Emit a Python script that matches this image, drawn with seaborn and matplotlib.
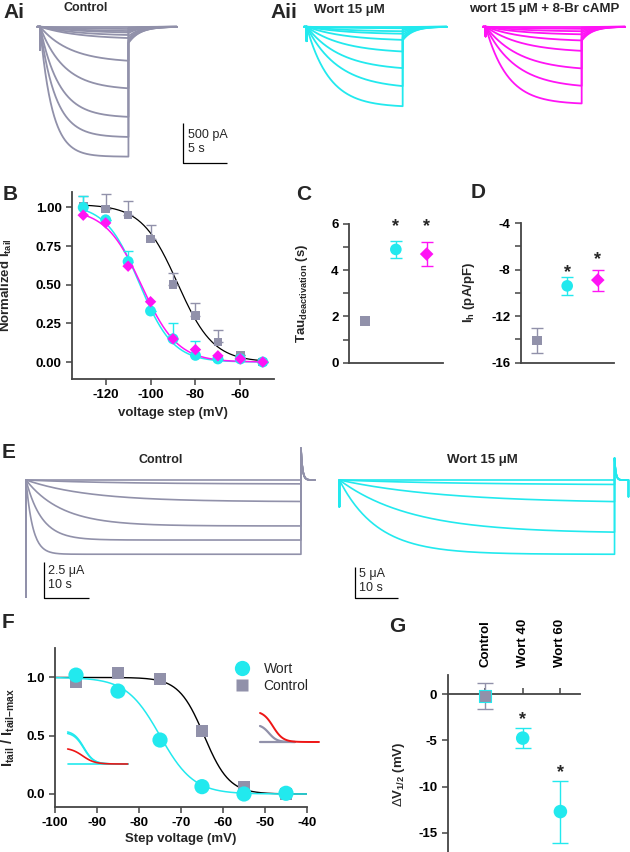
import numpy as np
import pandas as pd
import matplotlib
matplotlib.use("Agg")
import matplotlib.pyplot as plt
from matplotlib.lines import Line2D
from matplotlib.ticker import FixedLocator
import seaborn as sns

# ---------------------------------------------------------------- data
GRAY = "#9191aa"
CYAN = "#22e9ee"
MAGENTA = "#ff14f5"
RED = "#ee1515"

# Panel A (current traces, pA / s)
ai_amp_pA = [0, 33, 62, 83, 116, 158, 450, 791, 1138, 1383, 1625]
ai_tau_s = [5, 5, 5, 5, 4.5, 4.5, 3.5, 2.8, 2.2, 1.8, 1.4]
ai_tail_pA = [0, 15, 30, 45, 60, 80, 120, 150, 175, 195, 205]
aii_wort_amp_pA = [0, 21, 62, 96, 180, 334, 550, 780, 1008]
aii_wort_tau_s = [4.5, 4.5, 4.5, 4.5, 4.5, 4.2, 3.9, 3.65, 2.6]
aii_wort_tail_pA = [0, 10, 25, 45, 70, 100, 130, 155, 170]
aii_camp_amp_pA = [0, 29, 62, 104, 188, 325, 554, 771, 971]
aii_camp_tau_s = [4.5, 4.5, 4.5, 4.5, 4.5, 4.2, 3.9, 3.5, 2.5]
aii_camp_tail_pA = [0, 12, 28, 50, 75, 105, 135, 160, 175]

# Panel B (normalized tail current)
b_voltage = [-130, -120, -110, -100, -90, -80, -70, -60, -50]
b_ctrl = [1.01, 0.99, 0.95, 0.795, 0.50, 0.30, 0.13, 0.043, 0.00]
b_ctrl_err = [0.065, 0.10, 0.09, 0.09, 0.075, 0.08, 0.075, 0.0, 0.0]
b_wort = [1.00, 0.92, 0.65, 0.33, 0.15, 0.043, 0.02, 0.02, 0.00]
b_wort_err = [0.075, 0.0, 0.07, 0.0, 0.10, 0.09, 0.0, 0.0, 0.0]
b_camp = [0.95, 0.90, 0.62, 0.39, 0.15, 0.08, 0.04, 0.02, 0.00]
b_fit_ctrl = dict(top=1.02, vhalf=-88.0, k=8.0)
b_fit_wort = dict(top=1.02, vhalf=-105.0, k=7.5)
b_fit_camp = dict(top=0.99, vhalf=-104.0, k=8.0)

# Panel C / D (control, wort 15 uM, wort + 8-Br cAMP)
c_tau = [1.8, 4.9, 4.7]
c_tau_err = [0.0, 0.35, 0.5]
d_ih = [-14.1, -9.4, -8.9]
d_ih_err = [1.1, 0.8, 0.9]

# Panel E (oocyte traces, uA / s)
e_ctrl_amp_uA = [0, 0.28, 1.5, 3.17, 4.14, 5.12]
e_ctrl_tau_s = [20, 20, 14, 8, 3.5, 1.5]
e_wort_amp_uA = [0, 0.8, 3.72, 8.5, 11.85]
e_wort_tau_s = [30, 30, 25, 17, 9]

# Panel F (normalized tail, oocytes)
f_voltage = [-95, -85, -75, -65, -55, -45]
f_wort = [1.02, 0.883, 0.463, 0.063, 0.0, 0.006]
f_ctrl = [0.957, 1.034, 0.986, 0.543, 0.063, 0.0]
f_fit_ctrl = dict(top=1.0, vhalf=-64.5, k=3.0)
f_fit_wort = dict(top=1.0, vhalf=-75.0, k=4.0)
# inset tail traces (arbitrary units)
f_inset_left_amp = [32, 30.5, 0]
f_inset_left_red = [15]
f_inset_right_red = [29]
f_inset_right_gray = [16, 0]

# Panel G (shift of V1/2)
g_groups = ["Control", "Wort 40", "Wort 60"]
g_dv = [-0.25, -4.76, -12.7]
g_dv_err = [1.4, 1.1, 3.35]

# ---------------------------------------------------------------- style
sns.set_style("ticks")
plt.rcParams["font.family"] = ["Liberation Sans", "DejaVu Sans"]
plt.rcParams["mathtext.fontset"] = "custom"
plt.rcParams["mathtext.rm"] = "Liberation Sans"
plt.rcParams["mathtext.bf"] = "Liberation Sans:bold"
plt.rcParams["mathtext.it"] = "Liberation Sans:italic"
plt.rcParams["axes.unicode_minus"] = False

W, H = 630, 852
fig = plt.figure(figsize=(W / 100, H / 100), dpi=100)
SPINE = "#444444"
TICKFS = 9.5
LABFS = 9.5
PANELFS = 15


def add_ax(x0, y0, x1, y1):
    return fig.add_axes([x0 / W, 1 - y1 / H, (x1 - x0) / W, (y1 - y0) / H])


def ftext(x, y, s, **kw):
    fig.text(x / W, 1 - y / H, s, **kw)


def boltz(v, top, vhalf, k):
    return top / (1 + np.exp((np.asarray(v) - vhalf) / k))


def style_axes(ax):
    for s in ["top", "right"]:
        ax.spines[s].set_visible(False)
    for s in ["left", "bottom"]:
        ax.spines[s].set_color(SPINE)
        ax.spines[s].set_linewidth(1.3)
    ax.tick_params(colors=SPINE, width=1.1, length=4, labelsize=TICKFS,
                   labelcolor="black")
    for lab in ax.get_xticklabels() + ax.get_yticklabels():
        lab.set_fontweight("bold")


def trace_frame(amps, taus, tail_start, step_s, tail_s, tail_tau,
                onset=None, post=None, pre=0.3):
    frames = []
    for k, (a, tau, ts) in enumerate(zip(amps, taus, tail_start)):
        t_step = np.linspace(0, step_s, 300)
        i_step = -a * (1 - np.exp(-t_step / tau))
        t_tail = np.linspace(0, tail_s, 120)
        i_tail = ts * np.exp(-t_tail / tail_tau)
        t = [-pre, 0.0]
        y = [0.0, 0.0]
        if onset is not None:
            t += [0.0, 0.0]
            y += [onset, 0.0]
        t = np.concatenate([t, t_step, step_s + t_tail])
        y = np.concatenate([y, i_step, i_tail])
        if post is not None:
            t = np.append(t, step_s + tail_s)
            y = np.append(y, post)
        frames.append(pd.DataFrame({"t": t, "I": y, "sweep": k}))
    return pd.concat(frames, ignore_index=True)


def trace_axes(box, t0_px, base_px, px_per_s, px_per_unit):
    x0, y0, x1, y1 = box
    ax = add_ax(*box)
    ax.set_xlim((x0 - t0_px) / px_per_s, (x1 - t0_px) / px_per_s)
    ax.set_ylim(-(y1 - base_px) / px_per_unit, (base_px - y0) / px_per_unit)
    ax.axis("off")
    return ax


def draw_traces(ax, df, color, lw=1.3):
    sns.lineplot(data=df, x="t", y="I", units="sweep", estimator=None,
                 sort=False, color=color, lw=lw, ax=ax, legend=False)


def scale_bar(ax, x_px, top_px, t0_px, base_px, pps, ppu, vsize, hsize):
    x = (x_px - t0_px) / pps
    ytop = (base_px - top_px) / ppu
    ybot = ytop - vsize
    ax.plot([x, x, x + hsize], [ytop, ybot, ybot], color="black", lw=0.9,
            solid_capstyle="butt", clip_on=False)


def star(ax, x, yc, fs=13):
    ax.annotate("*", xy=(x, yc), xytext=(0, -0.5 * fs), textcoords="offset points",
                ha="center", va="baseline", fontsize=fs, fontweight="bold",
                annotation_clip=False)


# ---------------------------------------------------------------- panel A
PPS_A, PPU_A, BASE_A = 8.67, 0.08, 26.7
axAi = trace_axes((28, 10, 245, 172), 40, BASE_A, PPS_A, PPU_A)
draw_traces(axAi, trace_frame(ai_amp_pA, ai_tau_s, [-v for v in ai_tail_pA],
                              10.2, 5.57, 1.3, onset=-290), GRAY)
scale_bar(axAi, 183.3, 123.3, 40, BASE_A, PPS_A, PPU_A, 500, 5)
ftext(188, 142, "500 pA\n5 s", ha="left", va="center", fontsize=9, linespacing=1.15)

axAw = trace_axes((300, 10, 470, 172), 306.7, BASE_A, PPS_A, PPU_A)
draw_traces(axAw, trace_frame(aii_wort_amp_pA, aii_wort_tau_s,
                              [-v for v in aii_wort_tail_pA], 11.07, 5.07, 1.2,
                              onset=-180), CYAN)
axAc = trace_axes((478, 10, 630, 172), 485.7, BASE_A, PPS_A, PPU_A)
draw_traces(axAc, trace_frame(aii_camp_amp_pA, aii_camp_tau_s,
                              [-v for v in aii_camp_tail_pA], 11.07, 5.0, 1.2,
                              onset=-120), MAGENTA)

ftext(14, 12, "Ai", ha="center", va="center", fontsize=PANELFS, fontweight="bold")
ftext(284, 12, "Aii", ha="center", va="center", fontsize=PANELFS, fontweight="bold")
ftext(86, 8, "Control", ha="center", va="center", fontsize=9, fontweight="bold")
ftext(349, 10, "Wort 15 μM", ha="center", va="center", fontsize=9.5, fontweight="bold")
ftext(544, 9, "wort 15 μM + 8-Br cAMP", ha="center", va="center", fontsize=9.5,
      fontweight="bold")

# ---------------------------------------------------------------- panel B
axB = add_ax(72, 192, 274, 379)
vv = np.linspace(-130, -50, 300)
sns.lineplot(x=vv, y=boltz(vv, **b_fit_ctrl), color="black", lw=0.9, ax=axB)
sns.lineplot(x=vv, y=boltz(vv, **b_fit_wort), color=CYAN, lw=1.1, ax=axB)
sns.lineplot(x=vv, y=boltz(vv, **b_fit_camp), color=MAGENTA, lw=1.1, ax=axB)
axB.errorbar(b_voltage, b_ctrl, yerr=[np.zeros(len(b_ctrl)), b_ctrl_err], fmt="none",
             ecolor=GRAY, elinewidth=1, capsize=3.5, capthick=1, zorder=2)
axB.errorbar(b_voltage, b_wort, yerr=[np.zeros(len(b_wort)), b_wort_err], fmt="none",
             ecolor=CYAN, elinewidth=1, capsize=3.5, capthick=1, zorder=2)
sns.scatterplot(x=b_voltage, y=b_ctrl, marker="s", s=38, color=GRAY, edgecolor="none",
                ax=axB, zorder=3)
sns.scatterplot(x=b_voltage, y=b_wort, marker="o", s=62, color=CYAN, edgecolor="none",
                ax=axB, zorder=4)
sns.scatterplot(x=b_voltage, y=b_camp, marker="D", s=34, color=MAGENTA, edgecolor="none",
                ax=axB, zorder=5)
axB.set_xlim(-135, -45)
axB.set_ylim(-0.11, 1.10)
axB.set_xticks([-120, -100, -80, -60])
axB.set_yticks([0, 0.25, 0.5, 0.75, 1.0])
axB.set_yticklabels(["0.00", "0.25", "0.50", "0.75", "1.00"])
style_axes(axB)
axB.set_xlabel("voltage step (mV)", fontsize=LABFS, fontweight="bold", labelpad=4)
axB.set_ylabel(r"Normalized $\mathbf{I_{tail}}$", fontsize=LABFS, fontweight="bold")
axB.yaxis.set_label_coords(-0.285, 0.5)
ftext(10, 195, "B", ha="center", va="center", fontsize=PANELFS, fontweight="bold")

# ---------------------------------------------------------------- panel C
axC = add_ax(349, 224, 443, 362.7)
pos = [0, 1, 2]
cols = [GRAY, CYAN, MAGENTA]
marks = ["s", "o", "D"]
sizes = [50, 70, 48]
for i in range(3):
    if c_tau_err[i] > 0:
        axC.errorbar([pos[i]], [c_tau[i]], yerr=[c_tau_err[i]], fmt="none", ecolor=cols[i],
                     elinewidth=1, capsize=4.5, capthick=1)
sns.scatterplot(x=pos, y=c_tau, hue=pos, palette=cols, style=pos, markers=marks,
                size=pos, sizes=sizes, edgecolor="none", legend=False, ax=axC, zorder=3)
axC.set_xlim(-0.52, 2.53)
axC.set_ylim(0, 6)
axC.set_xticks([])
axC.set_yticks([0, 2, 4, 6])
axC.yaxis.set_minor_locator(FixedLocator([1, 3, 5]))
style_axes(axC)
axC.tick_params(which="minor", length=4, width=1.1, colors=SPINE)
axC.set_ylabel(r"Tau$_{\mathbf{deactivation}}$ (s)", fontsize=LABFS, fontweight="bold")
axC.yaxis.set_label_coords(-0.42, 0.5)
star(axC, 1, 6.1)
star(axC, 2, 6.1)
ftext(304, 195, "C", ha="center", va="center", fontsize=PANELFS, fontweight="bold")

# ---------------------------------------------------------------- panel D
axD = add_ax(520.7, 223, 614, 362.7)
for i in range(3):
    axD.errorbar([pos[i]], [d_ih[i]], yerr=[d_ih_err[i]], fmt="none", ecolor=cols[i],
                 elinewidth=1, capsize=4.5, capthick=1)
sns.scatterplot(x=pos, y=d_ih, hue=pos, palette=cols, style=pos, markers=marks,
                size=pos, sizes=sizes, edgecolor="none", legend=False, ax=axD, zorder=3)
axD.set_xlim(-0.52, 2.53)
axD.set_ylim(-16, -4)
axD.set_xticks([])
axD.set_yticks([-16, -12, -8, -4])
axD.yaxis.set_minor_locator(FixedLocator([-14, -10, -6]))
style_axes(axD)
axD.tick_params(which="minor", length=4, width=1.1, colors=SPINE)
axD.set_ylabel(r"I$_{\mathbf{h}}$ (pA/pF)", fontsize=LABFS, fontweight="bold")
axD.yaxis.set_label_coords(-0.47, 0.5)
star(axD, 1, -7.9)
star(axD, 2, -6.75)
ftext(478, 193, "D", ha="center", va="center", fontsize=PANELFS, fontweight="bold")

# ---------------------------------------------------------------- panel E
PPS_EC, PPU_EC, BASE_E = 4.5, 14.5, 480
axEc = trace_axes((15, 440, 328, 606), 26, BASE_E, PPS_EC, PPU_EC)
draw_traces(axEc, trace_frame(e_ctrl_amp_uA, e_ctrl_tau_s, [2.2] * len(e_ctrl_amp_uA),
                              61.1, 3.1, 0.35, onset=-8.05, pre=0.0), GRAY, lw=1.2)
scale_bar(axEc, 44.2, 561.7, 26, BASE_E, PPS_EC, PPU_EC, 2.5, 10)
ftext(48, 578, "2.5 μA\n10 s", ha="left", va="center", fontsize=9, linespacing=1.15)

PPS_EW, PPU_EW = 4.22, 6.27
axEw = trace_axes((330, 440, 630, 606), 339.4, BASE_E, PPS_EW, PPU_EW)
draw_traces(axEw, trace_frame(e_wort_amp_uA, e_wort_tau_s, [3.5] * len(e_wort_amp_uA),
                              65.2, 3.3, 0.3, onset=-4.26, post=-2.66, pre=0.0), CYAN, lw=1.2)
scale_bar(axEw, 355.4, 566.7, 339.4, BASE_E, PPS_EW, PPU_EW, 5, 10)
ftext(359, 581, "5 μA\n10 s", ha="left", va="center", fontsize=9, linespacing=1.15)

ftext(9, 453, "E", ha="center", va="center", fontsize=PANELFS, fontweight="bold")
ftext(161, 460, "Control", ha="center", va="center", fontsize=9, fontweight="bold")
ftext(482, 460, "Wort 15 μM", ha="center", va="center", fontsize=9.5, fontweight="bold")

# ---------------------------------------------------------------- panel F
axF = add_ax(55, 648.3, 307, 806.7)
vf = np.linspace(-100, -40, 300)
sns.lineplot(x=vf, y=boltz(vf, **f_fit_ctrl), color="black", lw=1.0, ax=axF)
sns.lineplot(x=vf, y=boltz(vf, **f_fit_wort), color=CYAN, lw=1.1, ax=axF)
sns.scatterplot(x=f_voltage, y=f_ctrl, marker="s", s=75, color=GRAY, edgecolor="none",
                ax=axF, zorder=3)
sns.scatterplot(x=f_voltage, y=f_wort, marker="o", s=120, color=CYAN, edgecolor="none",
                ax=axF, zorder=4)
axF.set_xlim(-100, -40)
axF.set_ylim(-0.109, 1.25)
axF.set_xticks(np.arange(-100, -39, 10))
axF.set_yticks([0, 0.5, 1.0])
axF.set_yticklabels(["0.0", "0.5", "1.0"])
style_axes(axF)
axF.set_xlabel("Step voltage (mV)", fontsize=LABFS, fontweight="bold", labelpad=3)
axF.set_ylabel(r"I$_{\mathbf{tail}}$ / I$_{\mathbf{tail{-}max}}$",
               fontsize=10.5, fontweight="bold")
axF.yaxis.set_label_coords(-0.15, 0.5)
handles = [Line2D([], [], marker="o", ls="", ms=11, color=CYAN, mec="none"),
           Line2D([], [], marker="s", ls="", ms=9, color=GRAY, mec="none")]
leg = axF.legend(handles, ["Wort", "Control"], frameon=False, loc="upper left",
                 bbox_to_anchor=(0.685, 0.95), handletextpad=1.0, labelspacing=0.25,
                 fontsize=10, borderaxespad=0, handlelength=1.2)
ftext(8, 623, "F", ha="center", va="center", fontsize=PANELFS, fontweight="bold")


def inset_frame(amps, t_half, k, n=100, span=60):
    rows = []
    t = np.linspace(0, span, n)
    for j, a in enumerate(amps):
        y = a * (1 + np.exp(-t_half / k)) / (1 + np.exp((t - t_half) / k))
        rows.append(pd.DataFrame({"t": t, "I": y, "sweep": j}))
    return pd.concat(rows, ignore_index=True)


insL = add_ax(64, 725, 130, 770)
insL.set_xlim(-3.7, 62.3)
insL.set_ylim(-6, 39)
insL.axis("off")
sns.lineplot(data=inset_frame(f_inset_left_amp, 16, 5), x="t", y="I", units="sweep",
             estimator=None, color=CYAN, lw=1.2, ax=insL, legend=False)
sns.lineplot(data=inset_frame(f_inset_left_red, 15, 6), x="t", y="I", units="sweep",
             estimator=None, color=RED, lw=1.2, ax=insL, legend=False)

insR = add_ax(257, 705, 322, 748)
insR.set_xlim(-3, 62)
insR.set_ylim(-6, 37)
insR.axis("off")
sns.lineplot(data=inset_frame(f_inset_right_gray, 9, 4, span=35), x="t", y="I",
             units="sweep", estimator=None, color=GRAY, lw=1.6, ax=insR, legend=False)
sns.lineplot(data=inset_frame(f_inset_right_red, 13, 5, span=59), x="t", y="I",
             units="sweep", estimator=None, color=RED, lw=1.4, ax=insR, legend=False)

# ---------------------------------------------------------------- panel G
axG = add_ax(447.7, 675, 580, 852)
gpos = [0, 1, 2]
gcols = [GRAY, CYAN, CYAN]
for i in range(3):
    axG.errorbar([gpos[i]], [g_dv[i]], yerr=[g_dv_err[i]], fmt="none", ecolor=gcols[i],
                 elinewidth=1, capsize=5.5, capthick=1, zorder=2)
sns.scatterplot(x=gpos[:1], y=g_dv[:1], marker="s", s=80, color=GRAY, edgecolor=CYAN,
                linewidth=0.8, ax=axG, zorder=3)
sns.scatterplot(x=gpos[1:], y=g_dv[1:], marker="o", s=95, color=CYAN, edgecolor="none",
                ax=axG, zorder=3)
axG.set_xlim(-0.99, 2.52)
axG.set_ylim(-17.07, 2.06)
axG.set_xticks(gpos)
axG.set_xticklabels(g_groups)
axG.set_yticks([0, -5, -10, -15])
style_axes(axG)
axG.spines["bottom"].set_position(("data", 0))
axG.tick_params(axis="x", direction="in", bottom=True, top=False, labelbottom=False,
                labeltop=True, labelrotation=90, pad=6)
for lab in axG.get_xticklabels():
    lab.set_fontweight("bold")
axG.set_ylabel(r"$\Delta$V$_{\mathbf{1/2}}$ (mV)", fontsize=LABFS, fontweight="bold")
axG.yaxis.set_label_coords(-0.31, 0.44)
star(axG, 1, -2.24)
star(axG, 2, -8.0)
ftext(397, 627, "G", ha="center", va="center", fontsize=PANELFS, fontweight="bold")

fig.savefig("out.png", dpi=100)
